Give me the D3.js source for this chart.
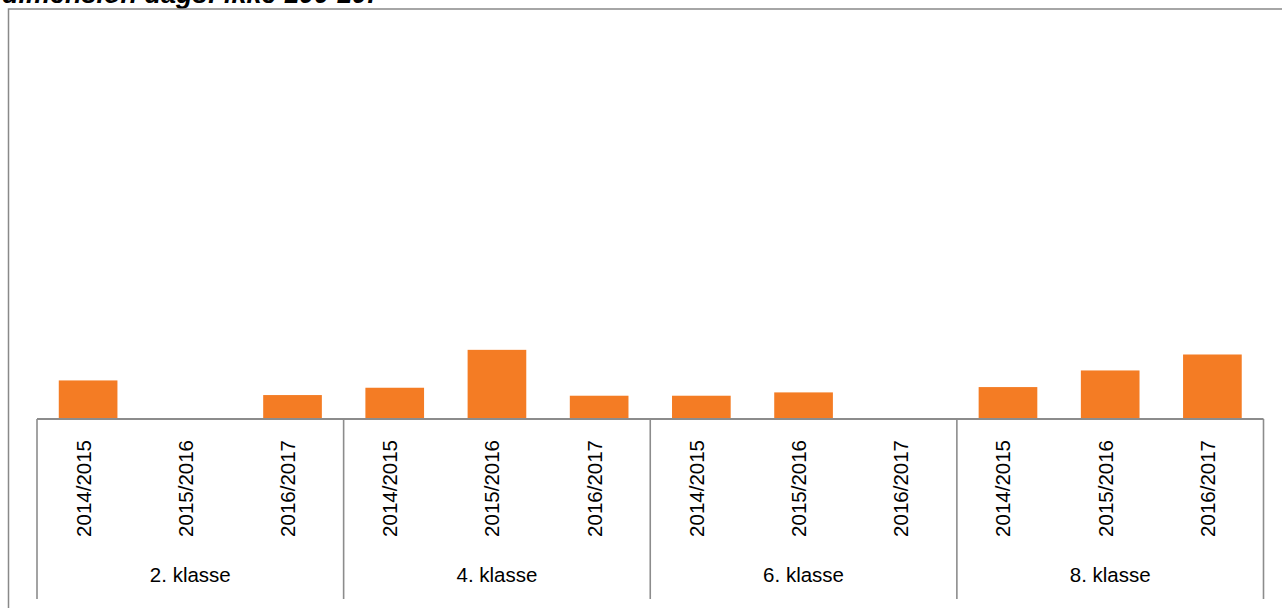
<!DOCTYPE html>
<html>
<head>
<meta charset="utf-8">
<script src="https://cdn.jsdelivr.net/npm/d3@7"></script>
<style>
  html, body { margin: 0; padding: 0; background: #fff; }
  svg { display: block; font-family: "Liberation Sans", Arial, sans-serif; }
</style>
</head>
<body>
<div id="chart"></div>
<script>
// data (no y axis shown, values in %)
const groups = ["2. klasse", "4. klasse", "6. klasse", "8. klasse"];
const years = ["2014/2015", "2015/2016", "2016/2017"];
const klasse2 = [5.8, 0, 3.6];
const klasse4 = [4.7, 10.4, 3.5];
const klasse6 = [3.5, 4.0, 0];
const klasse8 = [4.8, 7.3, 9.7];
const seriesValues = [klasse2, klasse4, klasse6, klasse8];

const width = 1282;
const height = 608;
const margin = { left: 37, right: 18.5, top: 20, axis: 419, bottom: 599 };

const svg = d3.select("#chart").append("svg")
  .attr("width", width)
  .attr("height", height);

// title, cut off at the very top like in the source
svg.append("text")
  .attr("x", 2)
  .attr("y", 2.5)
  .attr("font-size", 27)
  .attr("font-weight", "bold")
  .attr("font-style", "italic")
  .attr("fill", "#000")
  .text("dimension dags: ikke 100 10:");

// chart frame
svg.append("rect")
  .attr("x", 8.5)
  .attr("y", 9)
  .attr("width", width + 10)
  .attr("height", height + 10)
  .attr("fill", "none")
  .attr("stroke", "#898989")
  .attr("stroke-width", 1.5);

const x0 = d3.scaleBand()
  .domain(groups)
  .range([margin.left, width - margin.right])
  .padding(0);

const x1 = d3.scaleBand()
  .domain(years)
  .range([0, x0.bandwidth()])
  .paddingInner(0.426)
  .paddingOuter(0.213);

const y = d3.scaleLinear()
  .domain([0, 60])
  .range([margin.axis, margin.top]);

const groupSel = svg.append("g")
  .selectAll("g")
  .data(groups)
  .join("g")
  .attr("transform", (d) => `translate(${x0(d)},0)`);

groupSel.selectAll("rect")
  .data((d, i) => seriesValues[i].map((v, j) => ({ year: years[j], value: v })))
  .join("rect")
  .attr("x", (d) => x1(d.year))
  .attr("y", (d) => y(d.value))
  .attr("width", x1.bandwidth())
  .attr("height", (d) => y(0) - y(d.value))
  .attr("fill", "#F47C24");

// year labels, rotated
groupSel.selectAll("text.year")
  .data(years)
  .join("text")
  .attr("class", "year")
  .attr("transform", (d) => `translate(${x1(d) + x1.bandwidth() / 2},440) rotate(-90)`)
  .attr("text-anchor", "end")
  .attr("dy", "0.12em")
  .attr("font-size", 20.5)
  .attr("fill", "#000")
  .text((d) => d);

// group labels
groupSel.append("text")
  .attr("x", x0.bandwidth() / 2)
  .attr("y", 582)
  .attr("text-anchor", "middle")
  .attr("font-size", 20.5)
  .attr("fill", "#000")
  .text((d) => d);

// axis line and group separators
svg.append("line")
  .attr("x1", margin.left)
  .attr("x2", width - margin.right)
  .attr("y1", margin.axis)
  .attr("y2", margin.axis)
  .attr("stroke", "#8c8c8c")
  .attr("stroke-width", 2);

const bounds = groups.map((g) => x0(g)).concat([width - margin.right]);
svg.append("g")
  .selectAll("line")
  .data(bounds)
  .join("line")
  .attr("x1", (d) => d)
  .attr("x2", (d) => d)
  .attr("y1", margin.axis)
  .attr("y2", margin.bottom)
  .attr("stroke", "#8c8c8c")
  .attr("stroke-width", 1.6);
</script>
</body>
</html>
